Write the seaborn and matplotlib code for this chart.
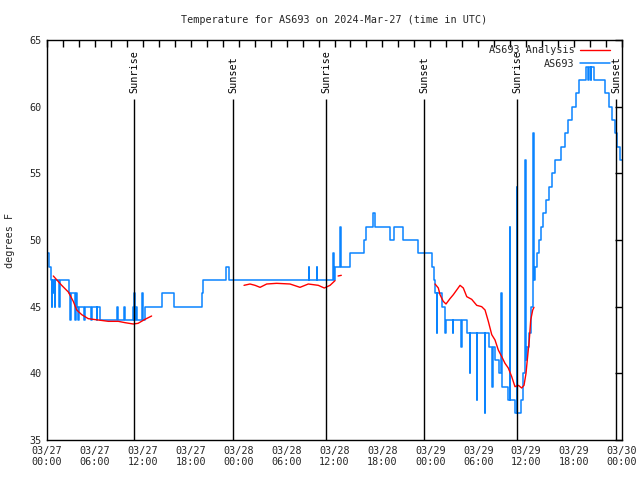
import matplotlib
matplotlib.use("Agg")
import matplotlib.pyplot as plt
from matplotlib.lines import Line2D
from matplotlib.ticker import MultipleLocator
import seaborn as sns

# ---------------- data ----------------
title = "Temperature for AS693 on 2024-Mar-27 (time in UTC)"
y_label = "degrees F"

# hours since 03/27 00:00 UTC and observed temperature (deg F)
blue_hours = [0.00, 0.30, 0.50, 0.62, 0.68, 0.80, 0.86, 0.95, 1.02, 1.55, 1.61, 2.80, 2.88, 2.95,
              3.55, 3.62, 3.80, 3.88, 3.95, 4.65, 4.78, 5.55, 5.68, 6.20, 6.30, 6.64, 8.80, 8.90,
              9.70, 9.80, 10.80, 10.88, 10.95, 11.02, 11.15, 11.25, 11.90, 11.97, 12.25, 14.40,
              15.90, 19.40, 19.55, 22.40, 22.85, 32.75, 32.85, 33.75, 33.85, 35.80, 35.88, 36.10,
              36.70, 36.80, 38.00, 39.70, 40.00, 40.80, 41.10, 43.00, 43.40, 44.60, 46.40, 48.17,
              48.40, 48.60, 48.78, 48.85, 49.45, 49.85, 49.93, 50.80, 50.88, 51.88, 51.96, 52.55,
              52.95, 53.02, 53.80, 53.87, 54.82, 54.90, 55.30, 55.75, 55.82, 56.10, 56.65, 56.85,
              56.92, 57.70, 57.95, 58.02, 58.60, 58.83, 58.90, 59.40, 59.65, 59.85, 59.92, 60.10,
              60.30, 60.55, 60.85, 60.92, 61.11, 61.36, 61.61, 61.86, 62.11, 62.48, 62.86, 63.24,
              63.61, 64.36, 64.86, 65.24, 65.74, 66.24, 66.62, 67.49, 67.74, 67.87, 68.06, 68.18,
              68.49, 69.87, 70.37, 70.75, 71.12, 71.37, 71.75, 72.00]
blue_temp = [49, 48, 47, 45, 47, 46, 47, 45, 47, 45, 47, 46, 44, 46,
             44, 46, 45, 44, 45, 44, 45, 44, 45, 44, 45, 44, 45, 44,
             45, 44, 45, 44, 46, 44, 45, 44, 46, 44, 45, 46,
             45, 46, 47, 48, 47, 48, 47, 48, 47, 49, 47, 48,
             51, 48, 49, 50, 51, 52, 51, 50, 51, 50, 49, 48,
             47, 46, 43, 46, 45, 43, 44, 43, 44, 42, 44, 43,
             40, 43, 38, 43, 37, 43, 42, 39, 42, 41, 40, 46,
             39, 38, 51, 38, 37, 54, 37, 38, 40, 56, 41, 42,
             43, 45, 58, 47, 48, 49, 50, 51, 52, 53, 54, 55,
             56, 57, 58, 59, 60, 61, 62, 63, 62, 63, 62, 63,
             62, 61, 60, 59, 58, 57, 56, 56]

# analysis (red), separate runs
red_a_hours = [0.79, 1.84, 2.67, 3.29, 3.72, 4.35, 5.17, 6.42, 7.68, 8.93, 9.77, 10.8, 11.4, 12.27, 13.1]
red_a_temp = [47.3, 46.6, 46.1, 45.4, 44.75, 44.4, 44.1, 44.0, 43.9, 43.9, 43.8, 43.7, 43.75, 44.05, 44.3]
red_b_hours = [24.67, 25.42, 26.05, 26.68, 27.51, 28.76, 30.43, 31.68, 32.72, 33.97, 34.72, 35.44, 36.06]
red_b_temp = [46.6, 46.7, 46.6, 46.45, 46.7, 46.75, 46.7, 46.45, 46.7, 46.6, 46.4, 46.6, 46.95]
red_b2_hours = [36.45, 36.85]
red_b2_temp = [47.3, 47.35]
red_c_hours = [48.59, 49.0, 49.21, 49.62, 49.96, 50.46, 50.88, 51.3, 51.72, 52.13, 52.56, 53.18, 53.81,
               54.43, 54.85, 55.26, 55.69, 56.1, 56.51, 56.94, 57.35, 57.76, 58.19, 58.6, 59.02,
               59.44, 59.73, 59.98, 60.14, 60.39, 60.57, 60.82, 60.98]
red_c_temp = [46.7, 46.4, 45.9, 45.4, 45.2, 45.6, 45.9, 46.25, 46.6, 46.4, 45.75, 45.55, 45.1,
              45.0, 44.75, 43.9, 42.9, 42.5, 41.75, 41.25, 40.75, 40.4, 39.75, 39.0, 39.1,
              38.9, 39.1, 40.0, 41.0, 42.5, 44.0, 44.75, 44.95]

sun_hours = [10.89, 23.29, 34.94, 47.21, 58.85, 71.25]
sun_labels = ["Sunrise", "Sunset", "Sunrise", "Sunset", "Sunrise", "Sunset"]

x_tick_hours = [0, 6, 12, 18, 24, 30, 36, 42, 48, 54, 60, 66, 72]
x_tick_labels = ["03/27\n00:00", "03/27\n06:00", "03/27\n12:00", "03/27\n18:00",
                 "03/28\n00:00", "03/28\n06:00", "03/28\n12:00", "03/28\n18:00",
                 "03/29\n00:00", "03/29\n06:00", "03/29\n12:00", "03/29\n18:00",
                 "03/30\n00:00"]
y_ticks = [35, 40, 45, 50, 55, 60, 65]

BLUE = "#0a84ff"
RED = "#ff0000"
FS = 7.3

# ---------------- plot ----------------
sns.set_style("white")
plt.rcParams["font.family"] = ["DejaVu Sans Mono", "DejaVu Sans"]

fig = plt.figure(figsize=(6.4, 4.8), dpi=100)
ax = fig.add_axes([47 / 640, 40 / 480, 575 / 640, 400 / 480])

sns.lineplot(x=blue_hours, y=blue_temp, ax=ax, color=BLUE, drawstyle="steps-post",
             estimator=None, sort=False, linewidth=1.1, legend=False)
for hh, tt in [(red_a_hours, red_a_temp), (red_b_hours, red_b_temp),
               (red_b2_hours, red_b2_temp), (red_c_hours, red_c_temp)]:
    sns.lineplot(x=hh, y=tt, ax=ax, color=RED, estimator=None, sort=False,
                 linewidth=1.0, legend=False)

ax.vlines(sun_hours, 35, 60.55, color="black", linewidth=1.0, zorder=3)
for sx, sl in zip(sun_hours, sun_labels):
    ax.text(sx, 61.0, sl, rotation=90, ha="center", va="bottom", fontsize=FS, color="black")

ax.set_xlim(0, 72)
ax.set_ylim(35, 65)
ax.set_xticks(x_tick_hours)
ax.set_xticklabels(x_tick_labels)
ax.xaxis.set_minor_locator(MultipleLocator(2))
ax.set_yticks(y_ticks)
ax.set_yticklabels([str(v) for v in y_ticks])
ax.tick_params(axis="both", which="both", direction="in", top=True, right=True,
               length=5, width=1, color="black", labelsize=FS, pad=4)

for s in ax.spines.values():
    s.set_visible(True)
    s.set_color("black")
    s.set_linewidth(1.0)

ax.set_title(title, fontsize=FS, pad=12)
ax.set_ylabel(y_label, fontsize=FS, labelpad=10)

handles = [Line2D([], [], color=RED, lw=1), Line2D([], [], color=BLUE, lw=1.1)]
leg = ax.legend(handles, ["AS693 Analysis", "AS693"], loc="upper right",
                bbox_to_anchor=(1 - 7 / 575, 1), frameon=False,
                markerfirst=False, fontsize=FS, handlelength=3.0, handletextpad=0.5,
                labelspacing=0.35, borderaxespad=0.2, borderpad=0.3)

fig.savefig("out.png", dpi=100, facecolor="white")
